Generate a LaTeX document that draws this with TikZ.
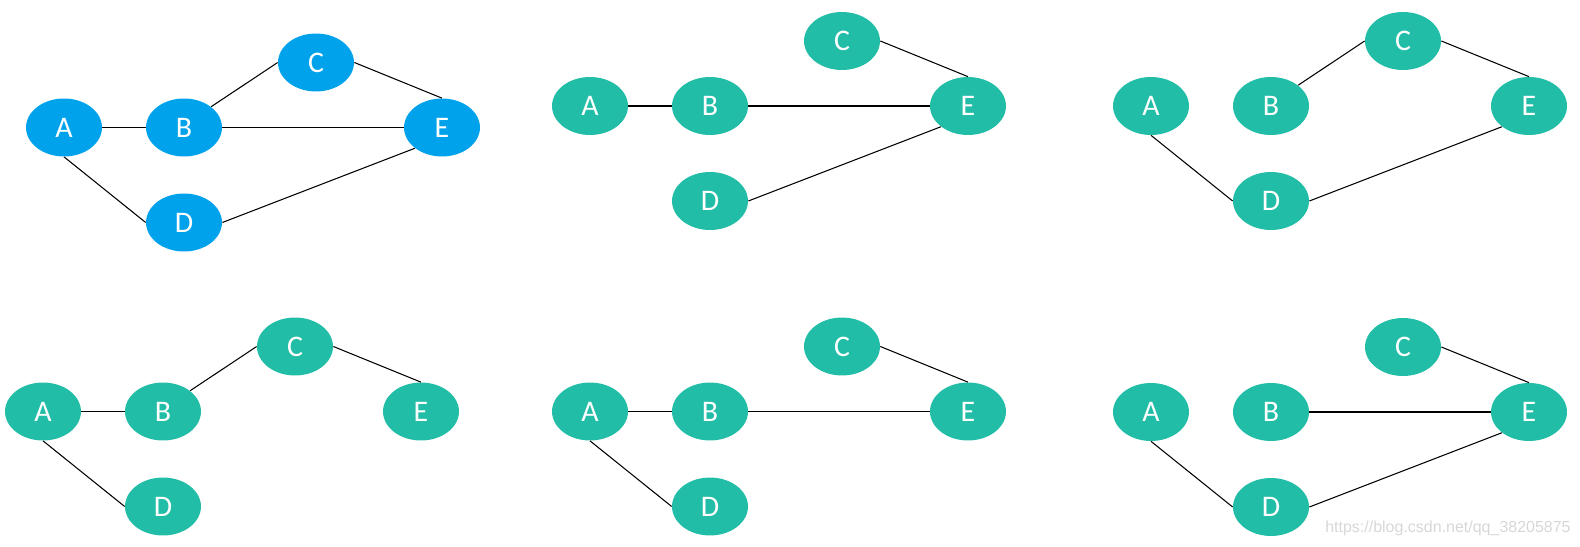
\documentclass[tikz,border=0pt]{standalone}
\usepackage{fontspec}
\setmainfont{Carlito}
\newfontfamily\markfont{Liberation Sans}
\usetikzlibrary{shapes.geometric}
\definecolor{nodeblue}{RGB}{0,162,235}
\definecolor{nodeteal}{RGB}{34,189,166}
\definecolor{markgray}{RGB}{215,215,215}

\begin{document}
\begin{tikzpicture}[x=0.02cm, y=-0.02cm]
    \tikzset{
      vertex/.style={
        ellipse, fill=nodeteal, text=white, inner sep=0pt,
        minimum width=1.52cm, minimum height=1.16cm,
        font=\fontsize{17}{20}\selectfont
      },
      edge/.style={draw, line width=0.6pt}
    }
    \useasboundingbox (0,0) rectangle (1580,547);
    % graphs
    \foreach[count=\g] \ox/\oy/\col in {64/127.5/nodeblue, 590/106/nodeteal, 1151/106/nodeteal,
                                       43/411.5/nodeteal, 590/411.5/nodeteal, 1151/412/nodeteal} {
      \node (g\g A) [vertex, fill=\col] at (\ox,\oy) {A};
      \node (g\g B) [vertex, fill=\col] at (\ox+120,\oy) {B};
      \node (g\g C) [vertex, fill=\col] at (\ox+252,\oy-65) {C};
      \node (g\g D) [vertex, fill=\col] at (\ox+120,\oy+95) {D};
      \node (g\g E) [vertex, fill=\col] at (\ox+378,\oy) {E};
    }
    % edges
    \foreach \g/\from/\to in {
        1/A.east/B.west, 1/B.north east/C.west, 1/B.east/E.west, 1/C.east/E.north, 1/A.south/D.west, 1/D.east/E.south west,
        2/A.east/B.west, 2/B.east/E.west, 2/C.east/E.north, 2/D.east/E.south west,
        3/A.south/D.west, 3/B.north east/C.west, 3/C.east/E.north, 3/D.east/E.south west,
        4/A.east/B.west, 4/B.north east/C.west, 4/C.east/E.north, 4/A.south/D.west,
        5/A.east/B.west, 5/B.east/E.west, 5/C.east/E.north, 5/A.south/D.west,
        6/B.east/E.west, 6/C.east/E.north, 6/A.south/D.west, 6/D.east/E.south west} {
      \draw[edge] (g\g\from) -- (g\g\to);
    }
    % watermark
    \node (watermark) [anchor=east, inner sep=0pt, text=markgray, font=\markfont\fontsize{9.1}{11}\selectfont]
      at (1571,528) {https://blog.csdn.net/qq\_38205875};
\end{tikzpicture}
\end{document}
